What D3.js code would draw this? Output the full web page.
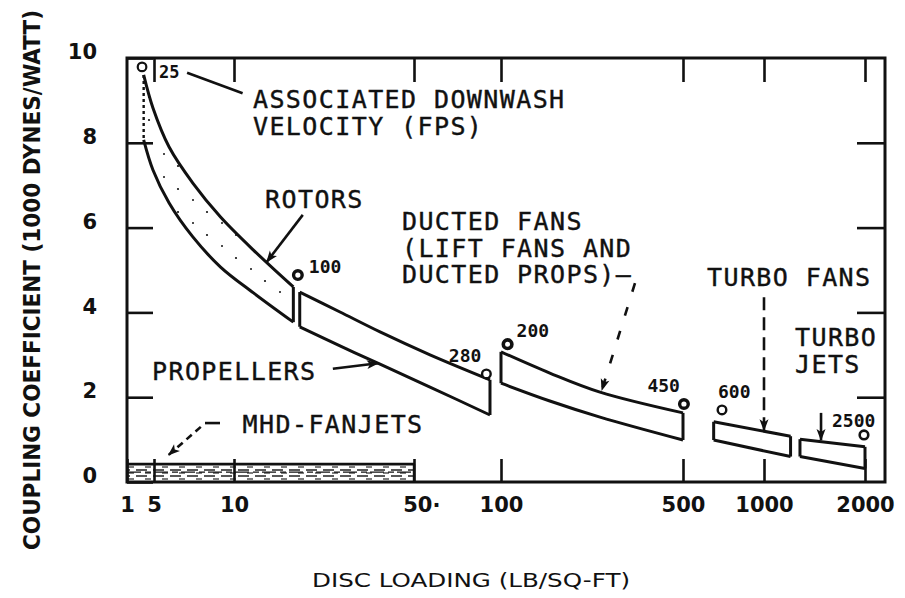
<!DOCTYPE html>
<html>
<head>
<meta charset="utf-8">
<script src="https://cdn.jsdelivr.net/npm/d3@7"></script>
<style>
  html, body { margin: 0; padding: 0; background: #fff; }
  svg { display: block; }
</style>
</head>
<body>
<svg id="chart" width="905" height="598"></svg>
<script>
// ---- Axis values -------------------------------------------------------
const xTickValues = [1, 5, 10, 50, 100, 500, 1000, 2000];
const xTickLabels = ["1", "5", "10", "50·", "100", "500", "1000", "2000"];
const yTickValues = [0, 2, 4, 6, 8, 10];
const yTickLabels = ["0", "2", "4", "6", "8", "10"];

// ---- Bands: [disc loading (lb/sq-ft), coupling coefficient (1000 dynes/watt)]
const rotorsUpper = [[2.7, 9.6], [4.7, 8.82], [5.7, 7.9], [7, 7.05], [8.9, 6.25], [11.9, 5.47], [17, 4.6]];
const rotorsLower = [[2.7, 8.07], [4.7, 7.36], [5.7, 6.58], [7, 5.78], [8.9, 5.07], [11.9, 4.46], [17, 3.77]];
const propellersUpper = [[18, 4.48], [25.8, 4.01], [36.9, 3.54], [56.8, 3.0], [91.6, 2.41]];
const propellersLower = [[18, 3.66], [25.8, 3.21], [36.9, 2.78], [56.8, 2.24], [91.6, 1.58]];
const ductedUpper = [[100, 3.07], [154, 2.57], [240, 2.12], [500, 1.63]];
const ductedLower = [[100, 2.33], [154, 1.91], [240, 1.53], [500, 0.99]];
const turboFansUpper = [[650, 1.42], [1200, 1.08]];
const turboFansLower = [[650, 0.99], [1200, 0.6]];
const turboJetsUpper = [[1280, 1.01], [2000, 0.83]];
const turboJetsLower = [[1280, 0.6], [2000, 0.32]];
const mhdUpper = [[1, 0.42], [50, 0.42]];
const mhdLower = [[1, 0], [50, 0]];

// ---- Associated downwash velocity markers (fps)
const markerVelocity = [25, 100, 280, 200, 450, 600, 2500];
const markerLoading  = [2.45, 17.7, 89, 106, 504, 698, 1986];
const markerCoef     = [9.79, 4.88, 2.55, 3.25, 1.84, 1.70, 1.11];

// ---- Layout -------------------------------------------------------------
const W = 905, H = 598;
const plot = { left: 127, top: 58, right: 885, bottom: 482 };
// printed graph spacing of the disc-loading decades (offset from left frame)
const xKnotOffsets = [0, 27, 107, 287, 374, 556, 637, 738];

const x = d3.scaleLog()
  .domain(xTickValues)
  .range(xKnotOffsets.map(o => plot.left + o));
const y = d3.scaleLinear().domain([0, 10]).range([plot.bottom, plot.top]);

const INK = "#111";
const MONO = "'DejaVu Sans Mono', 'Liberation Mono', monospace";
const BOLD = "'DejaVu Sans', 'Noto Sans', sans-serif";

const svg = d3.select("#chart");
svg.append("rect").attr("width", W).attr("height", H).attr("fill", "#fff");

const defs = svg.append("defs");
defs.append("marker")
  .attr("id", "arrow").attr("viewBox", "0 0 12 10")
  .attr("refX", 11).attr("refY", 5)
  .attr("markerWidth", 13).attr("markerHeight", 10)
  .attr("markerUnits", "userSpaceOnUse").attr("orient", "auto")
  .append("path").attr("d", "M0,0.5 L12,5 L0,9.5 L3,5 Z").attr("fill", INK);

// sparse stipple inside the rotor band
const stip = defs.append("pattern").attr("id", "stipple")
  .attr("width", 29).attr("height", 23).attr("patternUnits", "userSpaceOnUse");
stip.append("circle").attr("cx", 4).attr("cy", 5).attr("r", 1.1).attr("fill", INK);
stip.append("circle").attr("cx", 19).attr("cy", 16).attr("r", 1).attr("fill", INK);

// streaky texture of the MHD strip
const hatch = defs.append("pattern").attr("id", "hatch")
  .attr("width", 17).attr("height", 6).attr("patternUnits", "userSpaceOnUse");
hatch.append("line").attr("x1", 0).attr("x2", 11).attr("y1", 2).attr("y2", 2)
  .attr("stroke", INK).attr("stroke-width", 1.4);
hatch.append("line").attr("x1", 9).attr("x2", 15).attr("y1", 5).attr("y2", 5)
  .attr("stroke", INK).attr("stroke-width", 1.1);

// ---- Axes (inward ticks on all four sides) ------------------------------
const tickStyle = g => {
  g.select(".domain").remove();
  g.selectAll(".tick line").attr("stroke", INK).attr("stroke-width", 2.6);
  g.selectAll(".tick text").attr("fill", INK)
    .style("font-family", BOLD).style("font-weight", "bold").style("font-size", "21px");
};

const xLabel = d => xTickLabels[xTickValues.indexOf(d)];
const yLabel = d => yTickLabels[yTickValues.indexOf(d)];

svg.append("g").attr("transform", `translate(0,${plot.bottom})`)
  .call(d3.axisBottom(x).tickValues(xTickValues).tickFormat(xLabel)
    .tickSize(-23).tickSizeOuter(0).tickPadding(15))
  .call(tickStyle)
  .call(g => g.selectAll(".tick").filter(d => d === 50)
    .select("text").attr("dx", "0.35em"));

svg.append("g").attr("transform", `translate(0,${plot.top})`)
  .call(d3.axisTop(x).tickValues(xTickValues.filter(d => d > 1))
    .tickFormat("").tickSize(-24).tickSizeOuter(0))
  .call(tickStyle);

svg.append("g").attr("transform", `translate(${plot.left},0)`)
  .call(d3.axisLeft(y).tickValues(yTickValues).tickFormat(yLabel)
    .tickSize(-26).tickSizeOuter(0).tickPadding(30))
  .call(tickStyle)
  .call(g => g.selectAll(".tick text").attr("dy", "0.32em")
    .attr("transform", "translate(0,-6)"));

svg.append("g").attr("transform", `translate(${plot.right},0)`)
  .call(d3.axisRight(y).tickValues(yTickValues.filter(d => d > 0 && d < 10))
    .tickFormat("").tickSize(-28).tickSizeOuter(0))
  .call(tickStyle);

// frame
svg.append("rect")
  .attr("x", plot.left).attr("y", plot.top)
  .attr("width", plot.right - plot.left).attr("height", plot.bottom - plot.top)
  .attr("fill", "none").attr("stroke", INK).attr("stroke-width", 3);

// ---- Bands ---------------------------------------------------------------
const curve = d3.line()
  .x(d => x(d[0])).y(d => y(d[1]))
  .curve(d3.curveCatmullRom.alpha(0.5));

const bands = [
  { upper: rotorsUpper, lower: rotorsLower, fill: "url(#stipple)", leftDash: "3,3" },
  { upper: propellersUpper, lower: propellersLower, fill: "#fff" },
  { upper: ductedUpper, lower: ductedLower, fill: "#fff" },
  { upper: turboFansUpper, lower: turboFansLower, fill: "#fff" },
  { upper: turboJetsUpper, lower: turboJetsLower, fill: "#fff" }
];

const gBands = svg.append("g");
bands.forEach(b => {
  const outline = curve(b.upper) + "L" + curve(b.lower.slice().reverse()).slice(1) + "Z";
  gBands.append("path").attr("d", outline).attr("fill", b.fill).attr("stroke", "none");
  gBands.append("path").attr("d", curve(b.upper))
    .attr("fill", "none").attr("stroke", INK).attr("stroke-width", 3);
  gBands.append("path").attr("d", curve(b.lower))
    .attr("fill", "none").attr("stroke", INK).attr("stroke-width", 3);
  const u0 = b.upper[0], l0 = b.lower[0];
  const u1 = b.upper[b.upper.length - 1], l1 = b.lower[b.lower.length - 1];
  gBands.append("line")
    .attr("x1", x(u0[0])).attr("y1", y(u0[1])).attr("x2", x(l0[0])).attr("y2", y(l0[1]))
    .attr("stroke", INK).attr("stroke-width", b.leftDash ? 2.4 : 3)
    .attr("stroke-dasharray", b.leftDash || null);
  gBands.append("line")
    .attr("x1", x(u1[0])).attr("y1", y(u1[1])).attr("x2", x(l1[0])).attr("y2", y(l1[1]))
    .attr("stroke", INK).attr("stroke-width", 3);
});

// MHD fan-jet strip along the axis
svg.append("rect")
  .attr("x", x(mhdUpper[0][0])).attr("y", y(mhdUpper[0][1]))
  .attr("width", x(mhdUpper[1][0]) - x(mhdUpper[0][0]))
  .attr("height", y(mhdLower[0][1]) - y(mhdUpper[0][1]))
  .attr("fill", "url(#hatch)");
svg.append("path").attr("d", d3.line().x(d => x(d[0])).y(d => y(d[1]))(mhdUpper))
  .attr("stroke", INK).attr("stroke-width", 2.8).attr("fill", "none");
svg.append("line")
  .attr("x1", x(mhdUpper[1][0])).attr("x2", x(mhdLower[1][0]))
  .attr("y1", y(mhdUpper[1][1])).attr("y2", y(mhdLower[1][1]))
  .attr("stroke", INK).attr("stroke-width", 2.4);
svg.append("line")
  .attr("x1", x(mhdLower[0][0])).attr("x2", x(mhdLower[1][0]))
  .attr("y1", y(mhdUpper[0][1] * 0.55)).attr("y2", y(mhdUpper[0][1] * 0.55))
  .attr("stroke", INK).attr("stroke-width", 1.3).attr("stroke-dasharray", "14,4,6,3");

// ---- Velocity markers --------------------------------------------------
// [label dx, label dy, anchor, font size, ring width]
const markerLabelLayout = [
  [17, 11, "start", 17, 2.2], [11, -2, "start", 18, 3.4], [-5, -12, "end", 18, 2.4],
  [9, -7, "start", 18, 3.6], [-4, -12, "end", 18, 3.4], [-4, -12, "start", 18, 2.4],
  [-32, -8, "start", 18, 2.6]
];
const gMarks = svg.append("g");
markerVelocity.forEach((v, i) => {
  const cx = x(markerLoading[i]), cy = y(markerCoef[i]);
  const [dx, dy, anchor, fs, ring] = markerLabelLayout[i];
  gMarks.append("circle").attr("cx", cx).attr("cy", cy).attr("r", 4.3)
    .attr("fill", "#fff").attr("stroke", INK).attr("stroke-width", ring);
  gMarks.append("text").attr("x", cx + dx).attr("y", cy + dy)
    .attr("text-anchor", anchor).attr("fill", INK)
    .style("font-family", MONO).style("font-weight", "bold").style("font-size", fs + "px")
    .text(v);
});

// ---- Leader lines and arrows --------------------------------------------
const leaders = [
  { from: [6.66, 9.65], to: [10.8, 9.17], arrow: false },
  { from: [18.5, 6.30], to: [13.4, 5.19], arrow: true },
  { from: [24.2, 2.67], to: [36.2, 2.80], arrow: true },
  { from: [327, 4.69], to: [244, 2.17], arrow: true, dash: "9,16" },
  { from: [1000, 4.36], to: [1000, 1.22], arrow: true, dash: "13,7" },
  { from: [1479, 1.63], to: [1479, 0.99], arrow: true },
  { from: [7.5, 1.30], to: [5.68, 0.64], arrow: true, dash: "7,5" },
  { from: [7.78, 1.39], to: [8.86, 1.39], arrow: false }
];
const gLead = svg.append("g");
leaders.forEach(l => {
  gLead.append("line")
    .attr("x1", x(l.from[0])).attr("y1", y(l.from[1]))
    .attr("x2", x(l.to[0])).attr("y2", y(l.to[1]))
    .attr("stroke", INK).attr("stroke-width", 2.6)
    .attr("stroke-dasharray", l.dash || null)
    .attr("marker-end", l.arrow ? "url(#arrow)" : null);
});

// ---- Typed annotations --------------------------------------------------
const notes = [
  { lines: ["ASSOCIATED DOWNWASH", "VELOCITY (FPS)"], at: [11.85, 8.82], lead: 27 },
  { lines: ["ROTORS"], at: [13.2, 6.46], lead: 27 },
  { lines: ["DUCTED FANS", "(LIFT FANS AND", "DUCTED PROPS)—"], at: [44.9, 5.94], lead: 26.5 },
  { lines: ["TURBO FANS"], at: [614, 4.62], lead: 27 },
  { lines: ["TURBO", "JETS"], at: [1237, 3.20], lead: 27 },
  { lines: ["PROPELLERS"], at: [4.44, 2.41], lead: 27 },
  { lines: ["MHD-FANJETS"], at: [10.8, 1.16], lead: 27 }
];
const gNotes = svg.append("g");
notes.forEach(n => {
  const t = gNotes.append("text")
    .attr("x", x(n.at[0])).attr("y", y(n.at[1]))
    .attr("fill", INK).attr("stroke", INK).attr("stroke-width", 0.4)
    .style("font-family", MONO).style("font-size", "25px").style("letter-spacing", "1.4px");
  n.lines.forEach((s, i) => {
    t.append("tspan").attr("x", x(n.at[0])).attr("dy", i === 0 ? 0 : n.lead).text(s);
  });
});

// ---- Axis titles --------------------------------------------------------
svg.append("text")
  .attr("x", 471).attr("y", 587).attr("text-anchor", "middle")
  .attr("textLength", 318).attr("lengthAdjust", "spacingAndGlyphs")
  .attr("fill", INK)
  .style("font-family", "'DejaVu Sans Condensed', 'DejaVu Sans', sans-serif")
  .style("font-size", "20px")
  .text("DISC LOADING (LB/SQ-FT)");

svg.append("text")
  .attr("transform", "translate(40,280) rotate(-90)")
  .attr("text-anchor", "middle")
  .attr("textLength", 540).attr("lengthAdjust", "spacingAndGlyphs")
  .attr("fill", INK)
  .style("font-family", "'DejaVu Sans Condensed', 'DejaVu Sans', sans-serif")
  .style("font-weight", "bold").style("font-size", "23px")
  .text("COUPLING COEFFICIENT (1000 DYNES/WATT)");
</script>
</body>
</html>
